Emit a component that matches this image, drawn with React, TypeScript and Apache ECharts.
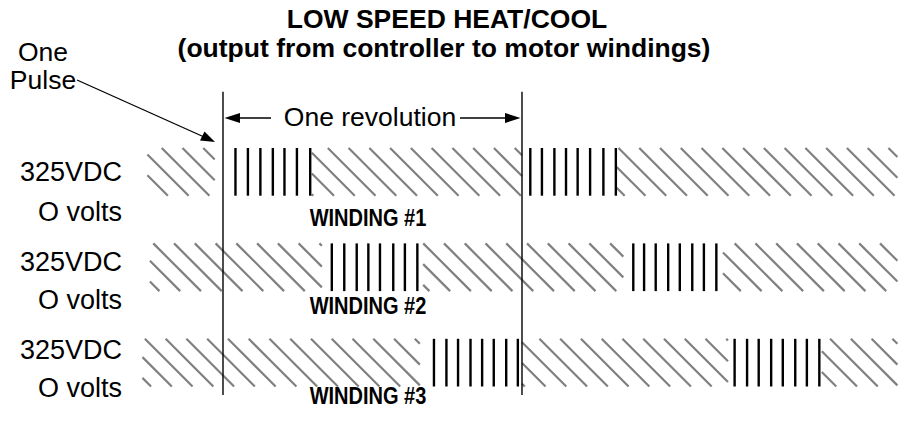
import React, { useEffect, useRef } from "react";
import * as echarts from "echarts";

// ---- data (time in degrees of rotation; 0..360 = one revolution) ----
const titleLines = ["LOW SPEED HEAT/COOL", "(output from controller to motor windings)"];
const windingNames = ["WINDING #1", "WINDING #2", "WINDING #3"];
const highLabel = "325VDC";
const lowLabel = "O volts";
const revolutionMarks = [0, 360];
const winding1Pulses = [15, 30, 45, 60, 74, 89, 105, 370, 384, 399, 413, 427, 442, 458, 473];
const winding2Pulses = [131, 146, 161, 175, 189, 205, 219, 234, 494, 507, 521, 536, 550, 565, 579, 594];
const winding3Pulses = [254, 269, 283, 298, 312, 326, 341, 355, 616, 631, 645, 660, 674, 689, 703, 718];
const winding1Hatch = [[-91, -10], [107, 360], [474, 812]];
const winding2Hatch = [[-88, 119], [241, 482], [602, 812]];
const winding3Hatch = [[-97, 237], [360, 608], [721, 812]];

const ROW_H = 0.5;
const HATCH_STEP = 25;
const FONT = "'Liberation Sans', Arial, Helvetica, sans-serif";

const hatchData = [winding1Hatch, winding2Hatch, winding3Hatch].flatMap((segs, row) =>
  segs.map(([a, b]) => [a, b, row])
);
const pulseData = [winding1Pulses, winding2Pulses, winding3Pulses].flatMap((ps, row) =>
  ps.map((x) => [x, row])
);

function txt(text: string, x: number, y: number, size: number, bold: boolean, align: string, scaleX = 1) {
  return {
    type: "text",
    x,
    y,
    scaleX,
    style: {
      text,
      x: 0,
      y: 0,
      fill: "#000",
      fontSize: size,
      fontWeight: bold ? "bold" : "normal",
      fontFamily: FONT,
      align,
      textAlign: align,
      verticalAlign: "middle",
      textVerticalAlign: "middle",
    },
  };
}

export default function App() {
  const ref = useRef<HTMLDivElement>(null);
  useEffect(() => {
    if (!ref.current) return;
    const chart = echarts.init(ref.current, undefined, { renderer: "svg" });
    const graphics: any[] = [
      txt(titleLines[0], 447, 19, 26.5, true, "center"),
      txt(titleLines[1], 444, 48, 26.5, true, "center"),
      txt("One", 43, 52, 26.5, false, "center"),
      txt("Pulse", 43, 80, 26.5, false, "center"),
      txt("One revolution", 370, 117, 26.5, false, "center"),
      // leader from "Pulse"
      { type: "line", shape: { x1: 77, y1: 80, x2: 203, y2: 136.5 }, style: { stroke: "#000", lineWidth: 1.3 } },
      { type: "polygon", shape: { points: [[215, 142], [200, 140.5], [204.5, 131.5]] }, style: { fill: "#000" } },
      // revolution arrows
      { type: "line", shape: { x1: 238, y1: 118, x2: 271, y2: 118 }, style: { stroke: "#000", lineWidth: 1.3 } },
      { type: "polygon", shape: { points: [[224.5, 118], [240, 113], [240, 123]] }, style: { fill: "#000" } },
      { type: "line", shape: { x1: 460, y1: 118, x2: 506, y2: 118 }, style: { stroke: "#000", lineWidth: 1.3 } },
      { type: "polygon", shape: { points: [[520.5, 118], [505, 113], [505, 123]] }, style: { fill: "#000" } },
    ];
    const rowLabelY = [
      [172, 212, 218],
      [262, 300, 306],
      [350, 388, 396],
    ];
    windingNames.forEach((name, i) => {
      graphics.push(txt(highLabel, 122, rowLabelY[i][0], 27, false, "right"));
      graphics.push(txt(lowLabel, 122, rowLabelY[i][1], 27, false, "right"));
      graphics.push(txt(name, 368, rowLabelY[i][2], 23, true, "center", 0.87));
    });

    chart.setOption({
      animation: false,
      backgroundColor: "#fff",
      grid: { left: 144.1, right: 9.6, top: 148, bottom: 34.5 },
      xAxis: { type: "value", min: -95, max: 812, show: false },
      yAxis: { type: "value", min: 0, max: 2.5, inverse: true, show: false },
      graphic: graphics,
      series: [
        {
          type: "custom",
          name: "hatch",
          clip: false,
          data: hatchData,
          renderItem: (params: any, api: any) => {
            const a = api.value(0), b = api.value(1), row = api.value(2);
            const p1 = api.coord([a, row]);
            const p2 = api.coord([b, row + ROW_H]);
            const top = p1[1], bottom = p2[1], x1 = p1[0], x2 = p2[0];
            const H = bottom - top;
            const origin = api.coord([0, 0]);
            const spacing = api.size([HATCH_STEP, 0])[0];
            // global 45° pattern: x - y = const
            const base = origin[0] + (top - origin[1]) + 1;
            const children: any[] = [];
            const nStart = Math.floor((x1 - H - base) / spacing) - 1;
            const nEnd = Math.ceil((x2 - base) / spacing) + 1;
            for (let n = nStart; n <= nEnd; n++) {
              const xa = base + n * spacing;
              const s = Math.max(xa, x1);
              const e = Math.min(xa + H, x2);
              if (e > s) {
                children.push({
                  type: "line",
                  shape: { x1: s, y1: top + (s - xa), x2: e, y2: top + (e - xa) },
                  style: { stroke: "#808080", lineWidth: 2.2 },
                });
              }
            }
            return { type: "group", children };
          },
        },
        {
          type: "custom",
          name: "pulses",
          clip: false,
          data: pulseData,
          renderItem: (params: any, api: any) => {
            const x = api.value(0), row = api.value(1);
            const p1 = api.coord([x, row]);
            const p2 = api.coord([x, row + ROW_H]);
            return {
              type: "line",
              shape: { x1: p1[0], y1: p1[1], x2: p2[0], y2: p2[1] },
              style: { stroke: "#000", lineWidth: 2.4 },
            };
          },
        },
        {
          type: "custom",
          name: "revolution",
          clip: false,
          data: revolutionMarks.map((x) => [x]),
          renderItem: (params: any, api: any) => {
            const x = api.value(0);
            const p1 = api.coord([x, -0.59]);
            const p2 = api.coord([x, 2.59]);
            return {
              type: "line",
              shape: { x1: p1[0], y1: p1[1], x2: p2[0], y2: p2[1] },
              style: { stroke: "#000", lineWidth: 1.4 },
            };
          },
        },
      ],
    });
    return () => chart.dispose();
  }, []);
  return (
    <div
      ref={ref}
      style={{ position: "fixed", left: 0, top: 0, width: 907, height: 421, background: "#fff" }}
    />
  );
}
